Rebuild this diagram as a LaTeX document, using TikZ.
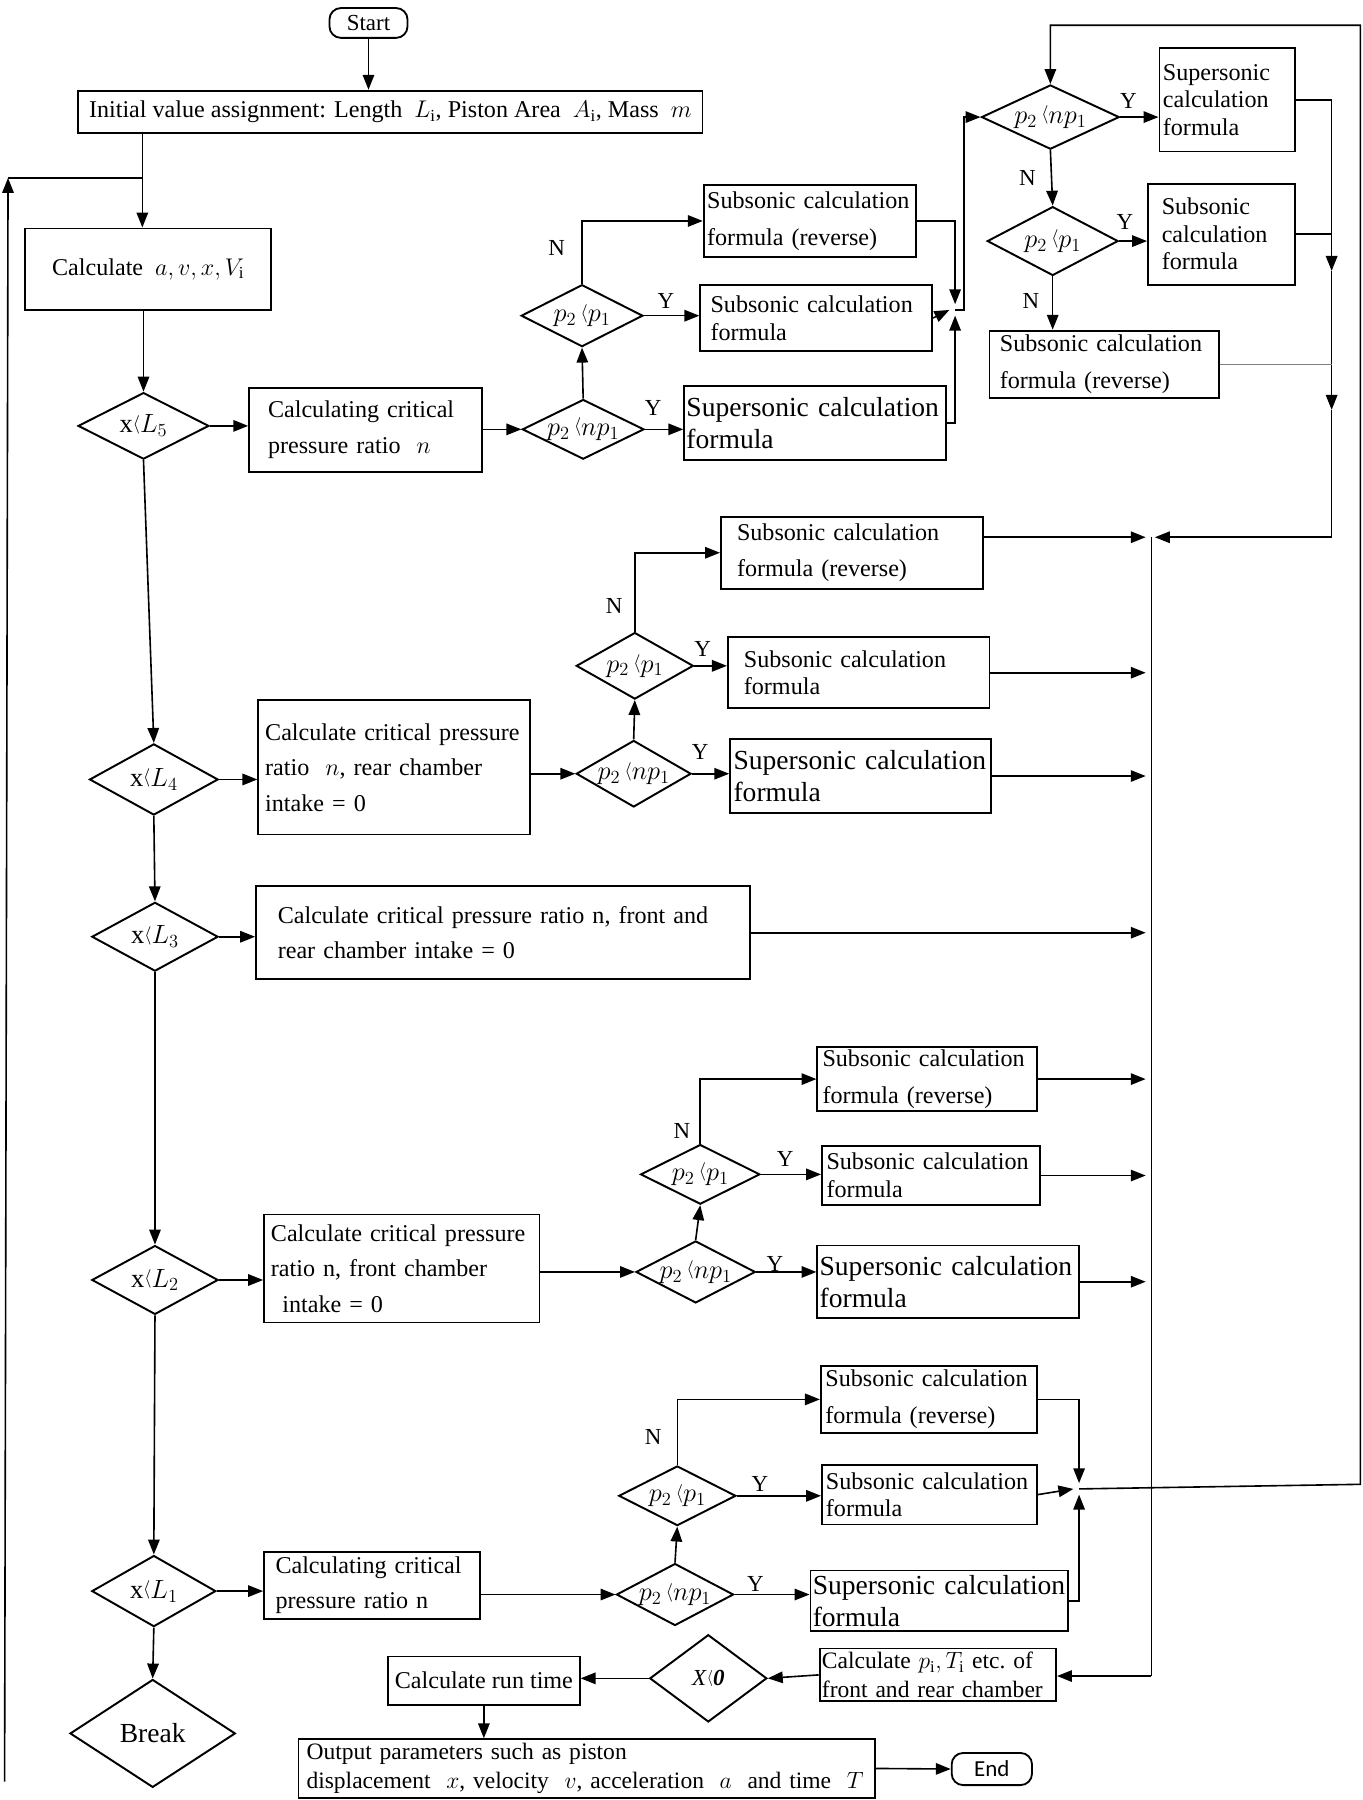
\RequirePackage{fix-cm}
\documentclass[tikz,border=0pt]{standalone}
\usepackage{fontspec}
\setmainfont{Liberation Serif}
\newfontfamily\endfont{Carlito}
\usetikzlibrary{arrows.meta,shapes.geometric}
\newcommand{\lsym}{\raisebox{0.3ex}{$\scriptstyle\langle$}}
\newcommand{\fA}{\fontsize{21}{24}\selectfont}
\newcommand{\fB}{\fontsize{21}{32}\selectfont}
\newcommand{\fC}{\fontsize{24}{28}\selectfont}
\newcommand{\fD}{\fontsize{20}{24}\selectfont}
\newcommand{\fE}{\fontsize{23}{26}\selectfont}
\newcommand{\fN}{\fontsize{21}{31}\selectfont}
\begin{document}
\begin{tikzpicture}[x=1pt,y=-1pt,
  box/.style={draw,line width=1.6pt,inner sep=0pt,align=left},
  dia/.style={draw,diamond,line width=1.7pt,inner sep=0pt},
  arr/.style={line width=1.4pt,-{Triangle[length=13pt,width=10pt]}},
  ln/.style={line width=1.4pt},
  lab/.style={font=\fD,inner sep=0pt}]
\useasboundingbox (0,0) rectangle (1187,1568);

% ---------- top ----------
\node[draw,rounded corners=10pt,line width=1.6pt,minimum width=68pt,minimum height=26pt,inner sep=0pt,font=\fD] (start) at (321,20) {Start};
\node[box,font=\fA,minimum width=544pt,minimum height=37pt] (init) at (340,97.5)
  {Initial value assignment: Length\ \ $L_{\mathrm{i}}$, Piston Area\ \ $A_{\mathrm{i}}$, Mass\ \ $m$};
\node[box,font=\fA,minimum width=214pt,minimum height=71pt] (calc) at (129,234.5)
  {Calculate\ \ $a,v,x,V_{\mathrm{i}}$};

% ---------- L5 group ----------
\node[dia,minimum width=114pt,minimum height=58pt,label={[font=\fE,inner sep=0pt]center:{x\lsym$L_5$}}] (d5) at (125,371) {};
\node[box,font=\fN,minimum width=203pt,minimum height=73pt,text width=170pt] (n5) at (318.5,374.5)
  {Calculating critical\\pressure ratio\ \ $n$};
\node[dia,minimum width=106pt,minimum height=52pt,label={[font=\fE,inner sep=0pt]center:{$p_2$\,\lsym$np_1$}}] (d5a) at (508,374) {};
\node[dia,minimum width=106pt,minimum height=54pt,label={[font=\fE,inner sep=0pt]center:{$p_2$\,\lsym$p_1$}}] (d5b) at (507,275) {};
\node[box,font=\fC,minimum width=228pt,minimum height=65pt,text width=224pt] (sup5) at (710,368.5)
  {Supersonic calculation\\formula};
\node[box,font=\fA,minimum width=202pt,minimum height=58pt,text width=184pt] (sub5) at (711,277)
  {Subsonic calculation\\formula};
\node[box,font=\fB,minimum width=185pt,minimum height=63pt,text width=179pt] (rev5) at (705.5,192.5)
  {Subsonic calculation\\formula (reverse)};
\node[lab] (y5a) at (569,355) {Y};
\node[lab] (y5b) at (580,262) {Y};
\node[lab] (n5b) at (485,216) {N};

% ---------- right column ----------
\node[dia,minimum width=120pt,minimum height=56pt,label={[font=\fE,inner sep=0pt]center:{$p_2$\,\lsym$np_1$}}] (R1) at (915,102) {};
\node[box,font=\fA,minimum width=118pt,minimum height=90pt,text width=112pt] (Rsup) at (1069,87)
  {Supersonic\\calculation\\formula};
\node[dia,minimum width=114pt,minimum height=60pt,label={[font=\fE,inner sep=0pt]center:{$p_2$\,\lsym$p_1$}}] (R2) at (917,210) {};
\node[box,font=\fA,minimum width=128pt,minimum height=88pt,text width=104pt] (Rsub) at (1064,204)
  {Subsonic\\calculation\\formula};
\node[box,font=\fB,minimum width=200pt,minimum height=59pt,text width=182pt] (Rrev) at (962,317.5)
  {Subsonic calculation\\formula (reverse)};
\node[lab] (yR1) at (983,88) {Y};
\node[lab] (nR1) at (895,155) {N};
\node[lab] (yR2) at (980,193) {Y};
\node[lab] (nR2) at (898,262) {N};

% ---------- L4 group ----------
\node[dia,minimum width=112pt,minimum height=62pt,label={[font=\fE,inner sep=0pt]center:{x\lsym$L_4$}}] (d4) at (134,679) {};
\node[box,font=\fN,minimum width=237pt,minimum height=117pt,text width=225pt] (n4) at (343.5,668.5)
  {\mbox{Calculate critical pressure}\\ratio\ \ $n$, rear chamber\\intake = 0};
\node[dia,minimum width=100pt,minimum height=58pt,label={[font=\fE,inner sep=0pt]center:{$p_2$\,\lsym$np_1$}}] (d4a) at (552,674) {};
\node[dia,minimum width=102pt,minimum height=58pt,label={[font=\fE,inner sep=0pt]center:{$p_2$\,\lsym$p_1$}}] (d4b) at (553,580) {};
\node[box,font=\fC,minimum width=227pt,minimum height=64pt,text width=221pt] (sup4) at (749.5,676)
  {Supersonic calculation\\formula};
\node[box,font=\fA,minimum width=228pt,minimum height=62pt,text width=200pt] (sub4) at (748,586)
  {Subsonic calculation\\formula};
\node[box,font=\fB,minimum width=228pt,minimum height=63pt,text width=200pt] (rev4) at (742,481.5)
  {Subsonic calculation\\formula (reverse)};
\node[lab] (y4a) at (610,655) {Y};
\node[lab] (y4b) at (612,565) {Y};
\node[lab] (n4b) at (535,528) {N};

% ---------- L3 ----------
\node[dia,minimum width=110pt,minimum height=60pt,label={[font=\fE,inner sep=0pt]center:{x\lsym$L_3$}}] (d3) at (135,816) {};
\node[box,font=\fN,minimum width=430pt,minimum height=81pt,text width=392pt] (n3) at (438,812.5)
  {\makebox[392pt][s]{Calculate critical pressure ratio n, front and}\\rear chamber intake = 0};

% ---------- L2 group ----------
\node[dia,minimum width=110pt,minimum height=60pt,label={[font=\fE,inner sep=0pt]center:{x\lsym$L_2$}}] (d2) at (135,1115) {};
\node[box,font=\fN,minimum width=240pt,minimum height=94pt,text width=228pt] (n2) at (350,1105)
  {Calculate critical pressure\\ratio n, front chamber\\\hspace*{10pt}intake = 0};
\node[dia,minimum width=104pt,minimum height=54pt,label={[font=\fE,inner sep=0pt]center:{$p_2$\,\lsym$np_1$}}] (d2a) at (606,1108) {};
\node[dia,minimum width=104pt,minimum height=52pt,label={[font=\fE,inner sep=0pt]center:{$p_2$\,\lsym$p_1$}}] (d2b) at (610,1023) {};
\node[box,font=\fC,minimum width=228pt,minimum height=63pt,text width=224pt] (sup2) at (826,1116.5)
  {Supersonic calculation\\formula};
\node[box,font=\fA,minimum width=190pt,minimum height=52pt,text width=182pt] (sub2) at (811,1024)
  {Subsonic calculation\\formula};
\node[box,font=\fB,minimum width=191pt,minimum height=56pt,text width=182pt] (rev2) at (807.5,940)
  {Subsonic calculation\\formula (reverse)};
\node[lab] (y2a) at (675,1101) {Y};
\node[lab] (y2b) at (684,1010) {Y};
\node[lab] (n2b) at (594,985) {N};

% ---------- L1 group ----------
\node[dia,minimum width=108pt,minimum height=62pt,label={[font=\fE,inner sep=0pt]center:{x\lsym$L_1$}}] (d1) at (134,1386) {};
\node[box,font=\fN,minimum width=188pt,minimum height=58pt,text width=168pt] (n1) at (324,1381)
  {Calculating critical\\pressure ratio n};
\node[dia,minimum width=102pt,minimum height=54pt,label={[font=\fE,inner sep=0pt]center:{$p_2$\,\lsym$np_1$}}] (d1a) at (588,1389) {};
\node[dia,minimum width=102pt,minimum height=52pt,label={[font=\fE,inner sep=0pt]center:{$p_2$\,\lsym$p_1$}}] (d1b) at (590,1303) {};
\node[box,font=\fC,minimum width=224pt,minimum height=53pt,text width=220pt] (sup1) at (818,1394.5)
  {Supersonic calculation\\formula};
\node[box,font=\fA,minimum width=187pt,minimum height=52pt,text width=180pt] (sub1) at (809.5,1302)
  {Subsonic calculation\\formula};
\node[box,font=\fB,minimum width=188pt,minimum height=58pt,text width=180pt] (rev1) at (809,1219)
  {Subsonic calculation\\formula (reverse)};
\node[lab] (y1a) at (658,1380) {Y};
\node[lab] (y1b) at (662,1293) {Y};
\node[lab] (n1b) at (569,1252) {N};

% ---------- bottom ----------
\node[dia,minimum width=144pt,minimum height=94pt,label={[font=\fC,inner sep=0pt]center:{Break}}] (brk) at (133,1510) {};
\node[box,font=\fontsize{20.5}{25}\selectfont,minimum width=206pt,minimum height=46pt,text width=202pt] (pT) at (817,1459)
  {\mbox{Calculate\ $p_{\mathrm{i}},T_{\mathrm{i}}$\ etc.\ of}\\front and rear chamber};
\node[dia,minimum width=102pt,minimum height=76pt,label={[font=\fD,inner sep=0pt]center:{\textit{X}\lsym\textbf{\textit{0}}}}] (dX) at (617,1462) {};
\node[box,font=\fA,minimum width=167pt,minimum height=42pt] (runt) at (421.5,1464) {Calculate run time};
\node[box,font=\fontsize{20.5}{25}\selectfont,minimum width=502pt,minimum height=51pt,text width=488pt] (out) at (511,1540.5)
  {Output parameters such as piston\\displacement\ \ $x$, velocity\ \ $v$, acceleration\ \ $a$\ \ and time\ \ $T$};
\node[draw,rounded corners=10pt,line width=1.6pt,minimum width=70pt,minimum height=28pt,inner sep=0pt,font=\endfont\fD] (endn) at (864,1541) {End};

% ---------- coordinates ----------
\coordinate (c1) at (124,155);
\coordinate (fbT) at (7,155);
\coordinate (fbB) at (4,1552);
\coordinate (J5) at (832,270);
\coordinate (J5r) at (840,270);
\coordinate (J1) at (940,1297);
\coordinate (lpB) at (1185,1293);
\coordinate (lpT) at (1185,22);
\coordinate (rcA) at (1160,236);
\coordinate (rcB) at (1160,357);
\coordinate (rcC) at (1160,468);
\coordinate (col) at (1003,468);
\coordinate (colB) at (1003,1460);

% ---------- connectors: top ----------
\draw[arr] (start.south) -- (start.south |- init.north);
\draw[arr] (init.south -| c1) -- (c1 |- calc.north);
\draw[arr] (fbB) -- (fbT);
\draw[ln] (fbT) -- (c1);
\draw[arr] (calc.south -| d5.north) -- (d5.north);

% L5
\draw[arr] (d5.east) -- (n5.west |- d5.east);
\draw[arr] (n5.east |- d5a.west) -- (d5a.west);
\draw[arr] (d5a.east) -- (sup5.west |- d5a.east);
\draw[arr] (d5a.north) -- (d5b.south);
\draw[arr] (d5b.east) -- (sub5.west |- d5b.east);
\draw[arr] (d5b.north) |- (rev5.west);
\draw[arr] (rev5.east) -| ([yshift=5pt]J5);
\draw[arr] (sub5.east) -- ([xshift=-5pt]J5);
\draw[arr] (sup5.east) -| ([yshift=-5pt]J5);
\draw[arr] (J5) -- (J5r) |- (R1.west);

% right column
\draw[arr] (J1) -- (lpB) -- (lpT) -| (R1.north);
\draw[arr] (R1.east) -- (Rsup.west |- R1.east);
\draw[arr] (R1.south) -- (R2.north);
\draw[arr] (R2.east) -- (Rsub.west |- R2.east);
\draw[arr] (R2.south) -- (R2.south |- Rrev.north);
\draw[arr] (Rsup.east) -| (rcA);
\draw[ln] (Rsub.east) -- (Rsub.east -| rcA);
\draw[arr] (rcA) -- (rcB);
\draw[ln,gray] (Rrev.east) -- (Rrev.east -| rcB);
\draw[arr] (rcB) -- (rcC) -- ([xshift=3pt]col);
\draw[ln] (col) -- (colB);
\draw[arr] (colB) -- (colB -| pT.east);

% L4
\draw[arr] (d5.south) -- (d4.north);
\draw[arr] (d4.east) -- (n4.west |- d4.east);
\draw[arr] (n4.east |- d4a.west) -- (d4a.west);
\draw[arr] (d4a.east) -- (sup4.west |- d4a.east);
\draw[arr] (d4a.north) -- (d4b.south);
\draw[arr] (d4b.east) -- (sub4.west |- d4b.east);
\draw[arr] (d4b.north) |- (rev4.west);
\draw[arr] (rev4.east |- col) -- ([xshift=-5pt]col);
\draw[arr] (sub4.east) -- ([xshift=-5pt]sub4.east -| col);
\draw[arr] (sup4.east) -- ([xshift=-5pt]sup4.east -| col);

% L3
\draw[arr] (d4.south) -- (d3.north);
\draw[arr] (d3.east) -- (n3.west |- d3.east);
\draw[arr] (n3.east) -- ([xshift=-5pt]n3.east -| col);

% L2
\draw[arr] (d3.south) -- (d2.north);
\draw[arr] (d2.east) -- (n2.west |- d2.east);
\draw[arr] (n2.east |- d2a.west) -- (d2a.west);
\draw[arr] (d2a.east) -- (sup2.west |- d2a.east);
\draw[arr] (d2a.north) -- (d2b.south);
\draw[arr] (d2b.east) -- (sub2.west |- d2b.east);
\draw[arr] (d2b.north) |- (rev2.west);
\draw[arr] (rev2.east) -- ([xshift=-5pt]rev2.east -| col);
\draw[arr] (sub2.east) -- ([xshift=-5pt]sub2.east -| col);
\draw[arr] (sup2.east) -- ([xshift=-5pt]sup2.east -| col);

% L1
\draw[arr] (d2.south) -- (d1.north);
\draw[arr] (d1.east) -- (n1.west |- d1.east);
\draw[arr] (n1.east |- d1a.west) -- (d1a.west);
\draw[arr] (d1a.east) -- (sup1.west |- d1a.east);
\draw[arr] (d1a.north) -- (d1b.south);
\draw[arr] (d1b.east) -- (sub1.west |- d1b.east);
\draw[arr] (d1b.north) |- (rev1.west);
\draw[arr] (rev1.east) -| ([yshift=5pt]J1);
\draw[arr] (sub1.east) -- ([xshift=-5pt]J1);
\draw[arr] (sup1.east) -| ([yshift=-5pt]J1);
\draw[arr] (d1.south) -- (brk.north);

% bottom
\draw[arr] (pT.west) -- (dX.east);
\draw[arr] (dX.west) -- (runt.east |- dX.west);
\draw[arr] (runt.south) -- (runt.south |- out.north);
\draw[arr] (out.east) -- (endn.west);
\end{tikzpicture}
\end{document}
